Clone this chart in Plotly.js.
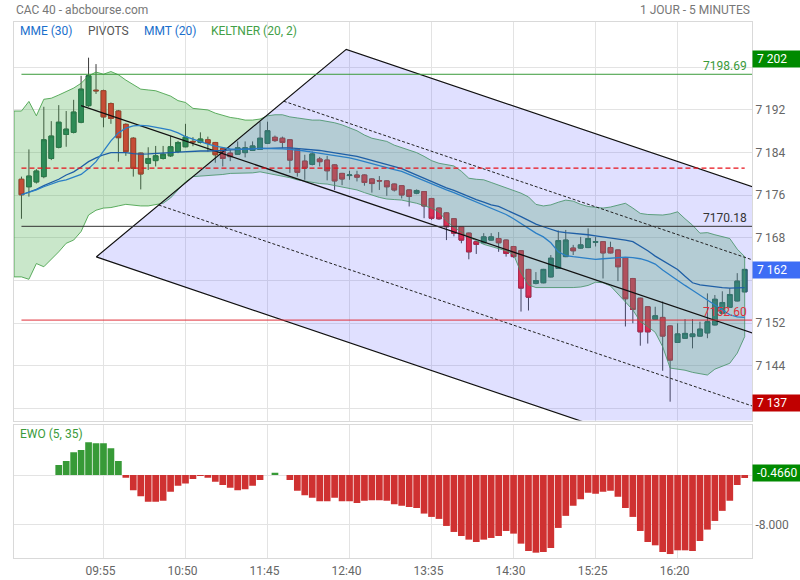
<!DOCTYPE html>
<html><head><meta charset="utf-8">
<script src="https://cdn.plot.ly/plotly-3.0.1.min.js"></script>
<style>html,body{margin:0;padding:0;background:#fff}#chart{width:800px;height:580px}</style>
</head><body><div id="chart"></div><script>
// ---- data ----
const timeTickIdx = [11, 22, 33, 44, 55, 66, 77, 88];
const timeLabels = ['09:55', '10:50', '11:45', '12:40', '13:35', '14:30', '15:25', '16:20'];
const priceTicks = [7136, 7144, 7152, 7160, 7168, 7176, 7184, 7192, 7200];
const priceTickText = ['', '7 144', '7 152', '', '7 168', '7 176', '7 184', '7 192', ''];
const ewoTicks = [-8, 0];
const ewoTickText = ['-8.000', ''];

const open = [7179.0, 7177.6, 7178.5, 7179.5, 7182.9, 7185.0, 7187.4, 7187.8, 7189.7, 7192.8,
 7195.7, 7195.6, 7193.2, 7191.8, 7189.3, 7186.7, 7183.9, 7182.0, 7182.5, 7182.9,
 7183.4, 7184.2, 7185.1, 7186.1, 7185.9, 7186.4, 7185.9, 7184.8, 7183.9, 7183.7,
 7184.0, 7184.4, 7184.6, 7185.75, 7186.87, 7186.7, 7186.4, 7184.6, 7182.4, 7181.8,
 7182.8, 7182.6, 7181.7, 7180.1, 7179.7, 7179.8, 7179.8, 7179.06, 7178.75, 7178.7,
 7178.1, 7177.8, 7177.0, 7176.4, 7176.7, 7175.4, 7173.6, 7172.7, 7171.6, 7170.1,
 7168.9, 7167.3, 7167.1, 7167.6, 7167.9, 7167.6, 7166.4, 7165.6, 7162.1, 7159.5,
 7159.6, 7160.7, 7162.3, 7164.5, 7166.1, 7166.1, 7166.2, 7167.2, 7167.3, 7166.2,
 7165.75, 7164.3, 7160.4, 7156.7, 7155.1, 7152.75, 7153.1, 7151.5, 7148.4, 7149.2,
 7149.5, 7149.6, 7150.2, 7151.7, 7153.9, 7155.0, 7156.2, 7157.9];
const high = [7179.5, 7184.6, 7180.9, 7192.6, 7189.9, 7192.9, 7191.8, 7193.9, 7198.4, 7201.8,
 7200.6, 7195.8, 7193.4, 7192.0, 7189.5, 7186.9, 7184.0, 7185.0, 7185.25, 7185.25,
 7187.1, 7186.2, 7189.4, 7186.9, 7187.8, 7187.0, 7186.0, 7185.0, 7184.5, 7186.1,
 7186.1, 7186.1, 7189.8, 7189.8, 7187.2, 7187.0, 7186.5, 7184.7, 7183.6, 7184.2,
 7183.2, 7183.4, 7181.8, 7180.2, 7180.6, 7180.6, 7179.9, 7179.2, 7179.6, 7178.8,
 7178.2, 7177.9, 7177.1, 7177.1, 7176.8, 7175.5, 7173.7, 7172.8, 7171.7, 7170.2,
 7169.0, 7167.4, 7168.9, 7168.9, 7169.1, 7167.7, 7166.5, 7165.7, 7162.2, 7161.6,
 7162.2, 7164.8, 7169.4, 7169.5, 7166.7, 7168.2, 7169.8, 7168.2, 7167.4, 7167.3,
 7165.8, 7164.4, 7160.5, 7156.8, 7155.2, 7155.1, 7156.1, 7151.6, 7152.0, 7152.8,
 7152.8, 7152.3, 7157.6, 7157.3, 7158.0, 7158.6, 7161.4, 7162.2];
const low = [7171.6, 7175.75, 7178.2, 7179.2, 7182.6, 7184.8, 7185.1, 7187.6, 7189.5, 7192.6,
 7195.0, 7188.75, 7189.4, 7182.3, 7183.4, 7179.5, 7177.1, 7180.75, 7181.4, 7182.7,
 7183.2, 7183.9, 7185.0, 7185.2, 7185.7, 7184.2, 7182.1, 7181.4, 7182.4, 7183.6,
 7183.1, 7184.3, 7184.5, 7185.6, 7186.0, 7184.8, 7180.2, 7179.5, 7178.9, 7181.6,
 7181.4, 7178.8, 7177.0, 7177.9, 7178.9, 7178.6, 7177.8, 7176.5, 7177.0, 7175.9,
 7176.7, 7175.4, 7173.9, 7176.2, 7171.7, 7171.4, 7171.4, 7167.6, 7168.3, 7167.0,
 7164.0, 7165.0, 7167.0, 7167.5, 7165.4, 7164.5, 7164.3, 7154.2, 7154.4, 7159.3,
 7159.5, 7160.6, 7162.2, 7164.4, 7164.8, 7166.0, 7166.1, 7166.4, 7160.4, 7165.1,
 7159.9, 7151.4, 7152.0, 7147.8, 7148.2, 7152.6, 7143.1, 7137.3, 7148.3, 7149.1,
 7147.3, 7149.5, 7149.2, 7151.6, 7153.8, 7154.9, 7156.1, 7157.8];
const close = [7176.1, 7179.6, 7180.55, 7186.4, 7187.1, 7189.7, 7188.4, 7191.6, 7195.9, 7198.4,
 7195.6, 7190.7, 7190.4, 7186.8, 7184.2, 7181.05, 7180.0, 7182.9, 7183.4, 7183.7,
 7185.1, 7185.9, 7186.9, 7186.0, 7186.55, 7185.75, 7183.6, 7182.9, 7183.25, 7184.9,
 7184.9, 7185.25, 7186.7, 7188.1, 7186.25, 7185.9, 7182.6, 7180.3, 7181.1, 7183.75,
 7182.3, 7180.6, 7178.7, 7179.06, 7179.8, 7179.4, 7178.4, 7178.2, 7178.7, 7177.6,
 7177.0, 7176.06, 7175.8, 7176.9, 7174.0, 7171.7, 7171.6, 7170.1, 7168.9, 7167.6,
 7165.4, 7166.8, 7168.2, 7168.2, 7167.1, 7165.1, 7164.5, 7158.6, 7156.9, 7160.0,
 7162.1, 7164.2, 7167.5, 7167.6, 7165.6, 7166.7, 7167.9, 7167.3, 7165.2, 7165.2,
 7162.6, 7156.6, 7154.6, 7150.4, 7150.4, 7153.4, 7149.6, 7145.1, 7150.0, 7150.1,
 7150.0, 7150.9, 7152.3, 7156.5, 7155.9, 7157.4, 7159.9, 7162.1];

// Keltner (20, 2): first value belongs to the bar before 09:00
const kelUpper = [7191.8, 7191.8, 7193.6, 7190.9, 7194.0, 7194.2, 7194.8, 7195.4, 7196.1, 7197.0,
 7198.4, 7199.1, 7198.7, 7199.2, 7198.6, 7197.6, 7196.7, 7195.9, 7195.75, 7195.6,
 7195.1, 7194.6, 7193.75, 7193.4, 7192.3, 7192.1, 7192.0, 7191.4, 7191.0, 7190.6,
 7190.4, 7190.1, 7190.1, 7190.3, 7190.9, 7191.1, 7191.1, 7190.7, 7190.5, 7190.3,
 7190.1, 7190.1, 7189.9, 7189.6, 7189.2, 7188.6, 7188.1, 7187.3, 7186.7, 7186.4,
 7186.1, 7185.4, 7184.9, 7184.5, 7184.0, 7183.3, 7182.5, 7182.0, 7181.7, 7181.5,
 7180.5, 7179.2, 7179.0, 7178.9, 7178.4, 7177.9, 7177.4, 7177.0, 7176.4, 7175.7,
 7174.3, 7174.0, 7174.2, 7174.7, 7175.1, 7174.9, 7174.3, 7173.9, 7173.7, 7173.6,
 7173.8, 7174.2, 7174.5, 7173.6, 7172.6, 7172.4, 7172.3, 7172.3, 7172.5, 7172.9,
 7171.6, 7170.4, 7168.9, 7169.0, 7168.6, 7168.3, 7167.9, 7165.9, 7164.5];
const kelLower = [7160.7, 7160.7, 7160.25, 7163.2, 7162.6, 7163.9, 7165.4, 7167.0, 7167.6, 7169.2,
 7172.3, 7173.2, 7173.6, 7173.7, 7174.0, 7174.3, 7174.1, 7174.0, 7174.0, 7174.2,
 7174.5, 7175.5, 7177.0, 7178.5, 7179.5, 7179.6, 7179.7, 7179.8, 7179.9, 7180.1,
 7180.1, 7180.2, 7180.2, 7180.4, 7180.1, 7179.8, 7179.6, 7179.3, 7178.9, 7178.6,
 7178.4, 7178.2, 7178.1, 7177.8, 7177.5, 7177.3, 7177.0, 7176.5, 7176.0, 7175.6,
 7175.3, 7175.2, 7175.1, 7174.8, 7174.5, 7174.1, 7173.6, 7172.9, 7171.2, 7170.0,
 7169.1, 7168.1, 7167.5, 7166.8, 7166.4, 7166.0, 7165.6, 7164.9, 7161.5, 7159.2,
 7158.7, 7158.6, 7158.6, 7158.7, 7158.7, 7158.7, 7158.8, 7159.1, 7159.7, 7159.6,
 7159.0, 7157.5, 7156.0, 7154.5, 7152.3, 7151.4, 7150.3, 7147.6, 7143.6, 7143.4,
 7143.2, 7142.8, 7142.5, 7142.3, 7143.4, 7144.0, 7144.5, 7146.4, 7149.5];

const mme30 = [7176.1, 7176.6, 7177.1, 7177.8, 7178.4, 7179.0, 7179.8, 7180.4, 7181.3, 7182.3,
 7183.0, 7183.6, 7184.0, 7184.0, 7184.0, 7183.8, 7183.7, 7183.75, 7183.8, 7183.9,
 7184.0, 7184.1, 7184.2, 7184.3, 7184.3, 7184.3, 7184.3, 7184.4, 7184.5, 7184.6,
 7184.6, 7184.7, 7184.8, 7184.8, 7184.9, 7184.9, 7184.9, 7184.8, 7184.7, 7184.5,
 7184.4, 7184.2, 7184.0, 7183.8, 7183.6, 7183.3, 7182.9, 7182.5, 7182.1, 7181.7,
 7181.3, 7181.0, 7180.4, 7179.8, 7179.2, 7178.5, 7178.0, 7177.4, 7176.9, 7176.3,
 7175.7, 7175.2, 7174.7, 7174.2, 7173.9, 7173.3, 7172.7, 7172.0, 7171.3, 7170.6,
 7170.1, 7169.6, 7169.2, 7169.0, 7168.9, 7168.8, 7168.6, 7168.4, 7168.2, 7168.1,
 7167.9, 7167.6, 7167.3, 7166.5, 7165.6, 7164.6, 7163.8, 7162.9, 7162.1, 7160.8,
 7159.6, 7159.2, 7159.0, 7158.8, 7158.7, 7158.6, 7158.6, 7158.7];
const mmt20 = [7176.1, 7176.5, 7177.0, 7177.6, 7178.1, 7178.6, 7178.9, 7179.4, 7179.9, 7181.0,
 7182.3, 7184.3, 7186.2, 7187.7, 7188.6, 7189.0, 7189.1, 7189.0, 7188.8, 7188.5,
 7188.2, 7187.7, 7187.0, 7186.5, 7186.1, 7185.6, 7185.2, 7184.9, 7184.7, 7184.6,
 7184.6, 7184.7, 7184.8, 7184.8, 7184.8, 7184.7, 7184.6, 7184.5, 7184.3, 7184.1,
 7183.9, 7183.7, 7183.5, 7183.3, 7183.0, 7182.7, 7182.3, 7181.9, 7181.5, 7181.1,
 7180.8, 7180.5, 7179.9, 7179.3, 7178.7, 7178.1, 7177.6, 7177.0, 7176.5, 7175.9,
 7175.4, 7174.8, 7174.2, 7173.6, 7173.0, 7172.4, 7171.6, 7170.7, 7169.8, 7168.9,
 7168.2, 7167.1, 7165.4, 7164.7, 7164.5, 7164.3, 7164.1, 7164.0, 7164.1, 7164.2,
 7164.3, 7164.4, 7164.3, 7164.1, 7163.7, 7163.1, 7162.0, 7161.0, 7160.1, 7159.1,
 7158.2, 7157.3, 7156.4, 7155.4, 7154.5, 7153.6, 7153.2, 7153.1];

const ewo = [null, null, null, null, null, 1.62, 2.27, 3.68, 4.05, 5.30,
 5.14, 5.14, 4.32, 2.27, -0.43, -2.43, -3.41, -4.32, -4.32, -4.16,
 -2.70, -1.73, -1.35, -0.65, -0.16, -0.43, -1.08, -1.62, -2.05, -2.43,
 -2.27, -1.73, -0.81, 0, 0.38, 0, -0.81, -2.54, -3.24, -3.68,
 -4.22, -4.22, -3.68, -4.22, -4.22, -4.49, -4.16, -4.05, -4.05, -4.16,
 -4.70, -4.97, -5.14, -5.30, -6.22, -6.76, -7.08, -8.22, -9.19, -9.84,
 -10.43, -10.81, -10.43, -10.16, -9.84, -9.03, -9.46, -11.08, -12.27, -12.54,
 -12.43, -11.78, -8.54, -6.59, -4.97, -3.89, -2.86, -3.03, -2.70, -2.54,
 -3.51, -5.30, -6.76, -9.03, -10.81, -11.35, -12.43, -12.76, -12.16, -12.16,
 -12.27, -10.65, -8.81, -7.41, -5.78, -4.16, -1.62, -0.466];

// pivots
const pivotLevels = [7198.69, 7181.10, 7170.18, 7152.60];
const pivotColors = ['#3a9a3a', '#e8101a', '#333333', '#e0303a'];
const pivotDash = ['solid', '5px,3px', 'solid', 'solid'];
const pivotLabelled = [true, false, true, true];

// regression channel drawn on the chart (bar index, price)
const channelMidX = [8, 98];
const channelMidY = [7192.8, 7150.2];
const channelOuter = 27.4;
const channelInner = 13.7;
const channelEdgeX = [10.03, 43.56];

// ---- build ----
const idx = open.map((_, i) => i);
const bandX = kelUpper.map((_, k) => k - 1);
const lastI = idx.length - 1;
const xEnd = 101;

const slope = (channelMidY[1] - channelMidY[0]) / (channelMidX[1] - channelMidX[0]);
const mid = x => channelMidY[0] + (x - channelMidX[0]) * slope;
const edge = d => {
  const t = (d + channelOuter) / (2 * channelOuter);
  const x = channelEdgeX[0] + t * (channelEdgeX[1] - channelEdgeX[0]);
  return [x, mid(x) + d];
};
const pLo = edge(-channelOuter), pUp = edge(channelOuter);

const traces = [];
traces.push({
  type: 'candlestick', x: idx, open: open, high: high, low: low, close: close,
  xaxis: 'x', yaxis: 'y', hoverinfo: 'skip', whiskerwidth: 0,
  increasing: {line: {color: '#3b3b3b', width: 1}, fillcolor: '#217c5a'},
  decreasing: {line: {color: '#3b3b3b', width: 1}, fillcolor: '#fa232b'}
});
traces.push({
  type: 'candlestick', x: idx, open: open, close: close,
  high: open.map((o, i) => Math.max(o, close[i])), low: open.map((o, i) => Math.min(o, close[i])),
  xaxis: 'x', yaxis: 'y', hoverinfo: 'skip', whiskerwidth: 0,
  increasing: {line: {color: '#1a6448', width: 1}, fillcolor: '#217c5a'},
  decreasing: {line: {color: '#c8161e', width: 1}, fillcolor: '#fa232b'}
});
traces.push({
  type: 'scatter', mode: 'lines', xaxis: 'x', yaxis: 'y', hoverinfo: 'skip',
  x: bandX.concat(bandX.slice().reverse(), [bandX[0]]),
  y: kelUpper.concat(kelLower.slice().reverse(), [kelUpper[0]]),
  fill: 'toself', fillcolor: 'rgba(76,175,80,0.30)',
  line: {color: 'rgba(67,160,71,0.85)', width: 1}
});
traces.push({
  type: 'scatter', mode: 'lines', xaxis: 'x', yaxis: 'y', hoverinfo: 'skip',
  x: [pLo[0], pUp[0], xEnd, xEnd, pLo[0]],
  y: [pLo[1], pUp[1], mid(xEnd) + channelOuter, mid(xEnd) - channelOuter, pLo[1]],
  fill: 'toself', fillcolor: 'rgba(100,100,255,0.20)',
  line: {color: '#111', width: 1.2}
});
[channelInner, -channelInner].forEach(d => {
  const p = edge(d);
  traces.push({
    type: 'scatter', mode: 'lines', xaxis: 'x', yaxis: 'y', hoverinfo: 'skip',
    x: [p[0], xEnd], y: [p[1], mid(xEnd) + d],
    line: {color: '#222', width: 1, dash: '3px,2px'}
  });
});
traces.push({
  type: 'scatter', mode: 'lines', xaxis: 'x', yaxis: 'y', hoverinfo: 'skip',
  x: [channelMidX[0], xEnd], y: [mid(channelMidX[0]), mid(xEnd)],
  line: {color: '#111', width: 1.3}
});
traces.push({type: 'scatter', mode: 'lines', xaxis: 'x', yaxis: 'y', hoverinfo: 'skip',
  x: idx, y: mme30, line: {color: '#1f5fa6', width: 1.3}});
traces.push({type: 'scatter', mode: 'lines', xaxis: 'x', yaxis: 'y', hoverinfo: 'skip',
  x: idx, y: mmt20, line: {color: '#2b7fc6', width: 1.3}});
pivotLevels.forEach((v, k) => {
  const x1 = pivotDash[k] === 'solid' ? xEnd : lastI;
  traces.push({type: 'scatter', mode: 'lines', xaxis: 'x', yaxis: 'y', hoverinfo: 'skip',
    x: [0, x1], y: [v, v], line: {color: pivotColors[k], width: pivotDash[k] === 'solid' ? 1 : 1.2, dash: pivotDash[k]}});
});
traces.push({
  type: 'bar', x: idx, y: ewo, xaxis: 'x2', yaxis: 'y2', hoverinfo: 'skip',
  marker: {color: ewo.map(v => (v !== null && v > 0) ? '#379a37' : '#cf3131'), line: {width: 0}}
});

const fmtSpace = v => String(Math.round(v)).replace(/\B(?=(\d{3})+(?!\d))/g, ' ');
const dayHigh = Math.max(...high), dayLow = Math.min(...low), last = close[lastI];

const annotations = [
  {text: 'CAC 40 - abcbourse.com', xref: 'paper', yref: 'paper', x: 0, y: 1, xanchor: 'left', yanchor: 'bottom',
   yshift: 3, showarrow: false, font: {size: 12, color: '#777'}},
  {text: '1 JOUR - 5 MINUTES', xref: 'paper', yref: 'paper', x: 1, y: 1, xanchor: 'right', yanchor: 'bottom',
   yshift: 3, showarrow: false, font: {size: 12, color: '#777'}},
  {text: 'MME (30)', xref: 'paper', yref: 'paper', x: 0, y: 1, xanchor: 'left', yanchor: 'top', xshift: 4, yshift: 0,
   showarrow: false, font: {size: 12, color: '#1a6fcc'}},
  {text: 'PIVOTS', xref: 'paper', yref: 'paper', x: 0, y: 1, xanchor: 'left', yanchor: 'top', xshift: 71.5, yshift: 0,
   showarrow: false, font: {size: 12, color: '#555'}},
  {text: 'MMT (20)', xref: 'paper', yref: 'paper', x: 0, y: 1, xanchor: 'left', yanchor: 'top', xshift: 127.5, yshift: 0,
   showarrow: false, font: {size: 12, color: '#1a6fcc'}},
  {text: 'KELTNER (20, 2)', xref: 'paper', yref: 'paper', x: 0, y: 1, xanchor: 'left', yanchor: 'top', xshift: 195, yshift: 0,
   showarrow: false, font: {size: 12, color: '#43a047'}},
  {text: 'EWO (5, 35)', xref: 'paper', yref: 'paper', x: 0, y: 0.2476, xanchor: 'left', yanchor: 'top', xshift: 4, yshift: 0,
   showarrow: false, font: {size: 12, color: '#3a9a3a'}},
  {text: '\u00a0' + fmtSpace(dayHigh), xref: 'paper', yref: 'y', x: 1, y: dayHigh, xanchor: 'left', yanchor: 'middle',
   yshift: -1, width: 46, align: 'left', bgcolor: '#008a00', borderpad: 1, showarrow: false, font: {size: 12, color: '#fff'}},
  {text: '\u00a0' + fmtSpace(last), xref: 'paper', yref: 'y', x: 1, y: last, xanchor: 'left', yanchor: 'middle',
   yshift: -1, width: 46, align: 'left', bgcolor: '#3d6df5', borderpad: 1, showarrow: false, font: {size: 12, color: '#fff'}},
  {text: '\u00a0' + fmtSpace(dayLow), xref: 'paper', yref: 'y', x: 1, y: dayLow, xanchor: 'left', yanchor: 'middle',
   yshift: -1, width: 46, align: 'left', bgcolor: '#c00000', borderpad: 1, showarrow: false, font: {size: 12, color: '#fff'}},
  {text: '\u00a0' + ewo[lastI].toFixed(4), xref: 'paper', yref: 'y2', x: 1, y: ewo[lastI], xanchor: 'left', yanchor: 'middle',
   yshift: 5, width: 46, align: 'left', bgcolor: '#008a00', borderpad: 1, showarrow: false, font: {size: 12, color: '#fff'}}
];
pivotLevels.forEach((v, k) => {
  if (!pivotLabelled[k]) return;
  annotations.push({text: v.toFixed(2), xref: 'paper', yref: 'y', x: 1, y: v, xanchor: 'right', yanchor: 'bottom',
    xshift: -4, yshift: 0, borderpad: 0, showarrow: false, font: {size: 12, color: pivotColors[k]}});
});

const gridC = '#e3e3e3', lineC = '#d9d9d9';
const layout = {
  width: 800, height: 580,
  margin: {l: 14, r: 48, t: 22, b: 22},
  paper_bgcolor: '#fff', plot_bgcolor: '#fff',
  font: {family: 'Roboto, "Open Sans", sans-serif', size: 12, color: '#666'},
  showlegend: false, hovermode: false, dragmode: false,
  boxgap: 0.1, boxgroupgap: 0.3, bargap: 0.1,
  xaxis: {domain: [0, 1], anchor: 'y', range: [-1, 97.98], tickvals: timeTickIdx, showticklabels: false,
    showgrid: true, gridcolor: gridC, gridwidth: 1, zeroline: false, showline: true, mirror: true, linecolor: lineC,
    ticks: '', rangeslider: {visible: false}, fixedrange: true},
  yaxis: {domain: [0.2565, 1], anchor: 'x', range: [7133.77, 7208.49], side: 'right', tickvals: priceTicks, ticktext: priceTickText,
    showgrid: true, gridcolor: gridC, zeroline: false, showline: true, mirror: true, linecolor: lineC, ticks: '',
    tickfont: {size: 12, color: '#666'}, fixedrange: true},
  xaxis2: {domain: [0, 1], anchor: 'y2', matches: 'x', range: [-1, 97.98], tickvals: timeTickIdx, ticktext: timeLabels,
    showgrid: true, gridcolor: gridC, zeroline: false, showline: true, mirror: true, linecolor: lineC, ticks: '',
    ticklabelshift: -3, ticklabelstandoff: 2, tickfont: {size: 12, color: '#666'}, fixedrange: true},
  yaxis2: {domain: [0, 0.2476], anchor: 'x2', range: [-13.4, 8.05], side: 'right', tickvals: ewoTicks, ticktext: ewoTickText,
    showgrid: true, gridcolor: gridC, zeroline: false, showline: true, mirror: true, linecolor: lineC, ticks: '',
    tickfont: {size: 12, color: '#666'}, fixedrange: true},
  annotations: annotations
};
Plotly.newPlot('chart', traces, layout, {displayModeBar: false, staticPlot: true});
</script></body></html>
